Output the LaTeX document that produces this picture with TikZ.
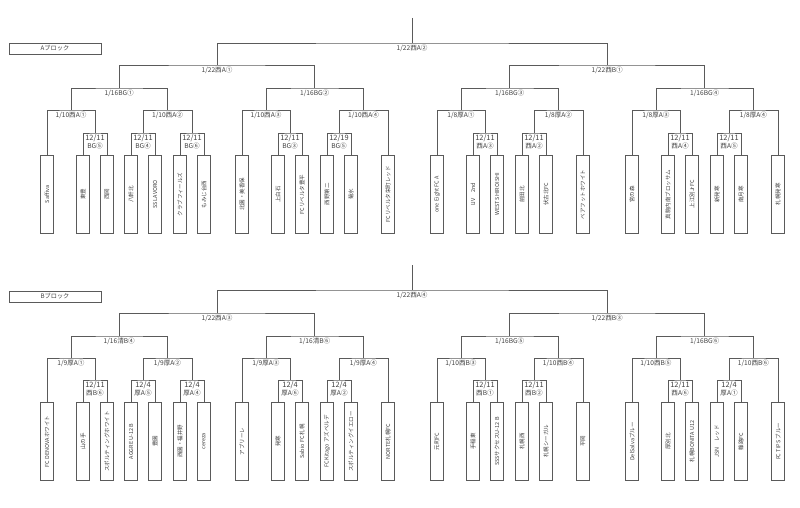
\documentclass[tikz,border=0pt]{standalone}
\usepackage{fontspec}
\setmainfont{Noto Sans CJK JP}
\usetikzlibrary{positioning,calc}

\definecolor{linegray}{HTML}{5A5A5A}
\definecolor{textgray}{HTML}{404040}

\tikzset{
  line/.style={draw=linegray, line width=0.9pt},
  team/.style={draw=linegray, line width=0.9pt, fill=white, rotate=90, anchor=east,
    minimum width=78pt, minimum height=12.5pt, inner sep=0pt,
    font=\fontsize{5.5}{6}\selectfont, text=textgray},
  rnd/.style={inner sep=0.5pt, font=\fontsize{6.6}{7.5}\selectfont, text=textgray},
  datelbl/.style={inner sep=0.5pt, font=\fontsize{7.4}{8}\selectfont, text=textgray},
  blockbox/.style={draw=linegray, line width=0.9pt, minimum width=92pt, minimum height=11pt,
    inner sep=0pt, font=\fontsize{6.2}{7}\selectfont, text=textgray}
}

% match: name, level, left, right, label
\newcommand{\match}[5]{%
  \path ($(#3)!.5!(#4)$) coordinate (mid);
  \coordinate (#1) at (mid |- #2);
  \draw[line] (#3) |- (#1) -| (#4);
  \node[rnd, below=1pt of #1] (#1l) {#5};
}
% first round: name, level, left, right, date, venue
\newcommand{\firstmatch}[6]{%
  \path ($(#3)!.5!(#4)$) coordinate (mid);
  \coordinate (#1) at (mid |- #2);
  \draw[line] (#3) |- (#1) -| (#4);
  \node[datelbl, below=1pt of #1] (#1d) {#5};
  \node[rnd, below=0pt of #1d] (#1v) {#6};
}

\begin{document}
\begin{tikzpicture}[x=1pt, y=-1pt]
  \useasboundingbox (0,0) rectangle (800,508);

  %A block
  \node[blockbox] (atitle) at (55,48.5) {Aブロック};
  \coordinate (aL0) at (0,18);   %top of tree
  \coordinate (aL1) at (0,43);   %final
  \coordinate (aL2) at (0,65);   %semi
  \coordinate (aL3) at (0,88);   %quarter
  \coordinate (aL4) at (0,110);  %second round
  \coordinate (aL5) at (0,133);  %first round
  \foreach \tx/\tn [count=\i] in {47/Saffiva, 83/東豊, 107/西岡, 131/八軒北, 155/SS LAVORO,
      180/クラブフィールズ, 204/もみじ台西, 242/北園・美香保, 278/上白石, 302/FCリベルタ豊平,
      327/西野第二, 351/菊水, 388/FCリベルタ栄町レッド, 437/one Eight FC A, 473/LIV　2nd,
      497/WEST SHIROISHI, 522/前田北, 546/伏古北FC, 583/ベアフットホワイト, 632/宮の森,
      668/真駒内南ブロッサム, 692/上江別JrFC, 717/新発寒, 741/南月寒, 778/札幌発寒}
    \node[team] (a\i) at (\tx,155) {\tn};

  \firstmatch{ar1}{aL5}{a2.east}{a3.east}{12/11}{BG⑤}
  \firstmatch{ar2}{aL5}{a4.east}{a5.east}{12/11}{BG④}
  \firstmatch{ar3}{aL5}{a6.east}{a7.east}{12/11}{BG⑥}
  \firstmatch{ar4}{aL5}{a9.east}{a10.east}{12/11}{BG③}
  \firstmatch{ar5}{aL5}{a11.east}{a12.east}{12/19}{BG⑤}
  \firstmatch{ar6}{aL5}{a15.east}{a16.east}{12/11}{西A③}
  \firstmatch{ar7}{aL5}{a17.east}{a18.east}{12/11}{西A②}
  \firstmatch{ar8}{aL5}{a21.east}{a22.east}{12/11}{西A④}
  \firstmatch{ar9}{aL5}{a23.east}{a24.east}{12/11}{西A⑤}

  \match{am1}{aL4}{a1.east}{ar1}{1/10西A①}
  \match{am2}{aL4}{ar2}{ar3}{1/10西A②}
  \match{am3}{aL4}{a8.east}{ar4}{1/10西A③}
  \match{am4}{aL4}{ar5}{a13.east}{1/10西A④}
  \match{am5}{aL4}{a14.east}{ar6}{1/8厚A①}
  \match{am6}{aL4}{ar7}{a19.east}{1/8厚A②}
  \match{am7}{aL4}{a20.east}{ar8}{1/8厚A③}
  \match{am8}{aL4}{ar9}{a25.east}{1/8厚A④}

  \match{aq1}{aL3}{am1}{am2}{1/16BG①}
  \match{aq2}{aL3}{am3}{am4}{1/16BG②}
  \match{aq3}{aL3}{am5}{am6}{1/16BG③}
  \match{aq4}{aL3}{am7}{am8}{1/16BG④}
  \match{as1}{aL2}{aq1}{aq2}{1/22西A①}
  \match{as2}{aL2}{aq3}{aq4}{1/22西B①}
  \match{af}{aL1}{as1}{as2}{1/22西A②}
  \coordinate (aroot) at (af |- aL0);
  \draw[line] (aroot) -- (af);

  %B block
  \begin{scope}[shift={(0,247)}]
  \node[blockbox] (btitle) at (55,49.5) {Bブロック};
  \coordinate (bL0) at (0,18);   %top of tree
  \coordinate (bL1) at (0,43);   %final
  \coordinate (bL2) at (0,66);   %semi
  \coordinate (bL3) at (0,89);   %quarter
  \coordinate (bL4) at (0,111);  %second round
  \coordinate (bL5) at (0,133);  %first round
  \foreach \tx/\tn [count=\i] in {47/FC DENOVAホワイト, 83/山の手, 107/スポルティングホワイト,
      131/AGGRE U-12 B, 155/豊園, 180/西園・福井野, 204/cereza, 242/アブリーレ, 278/発寒,
      302/Sabio FC 札幌, 327/FC Kitago アズベルデ, 351/スポルティングイエロー, 388/NORTE札幌FC,
      437/元町FC, 473/手稲東, 497/SSSサクセスU-12 B, 522/札幌西, 546/札幌シーガル, 583/平岡,
      632/DelSalvaブルー, 668/厚別北, 692/札幌BONITA U12, 717/JSN　レッド, 741/篠路FC,
      778/FC TIPS ブルー}
    \node[team] (b\i) at (\tx,155) {\tn};

  \firstmatch{br1}{bL5}{b2.east}{b3.east}{12/11}{西B⑥}
  \firstmatch{br2}{bL5}{b4.east}{b5.east}{12/4}{厚A⑤}
  \firstmatch{br3}{bL5}{b6.east}{b7.east}{12/4}{厚A④}
  \firstmatch{br4}{bL5}{b9.east}{b10.east}{12/4}{厚A⑥}
  \firstmatch{br5}{bL5}{b11.east}{b12.east}{12/4}{厚A②}
  \firstmatch{br6}{bL5}{b15.east}{b16.east}{12/11}{西B①}
  \firstmatch{br7}{bL5}{b17.east}{b18.east}{12/11}{西B②}
  \firstmatch{br8}{bL5}{b21.east}{b22.east}{12/11}{西A⑥}
  \firstmatch{br9}{bL5}{b23.east}{b24.east}{12/4}{厚A①}

  \match{bm1}{bL4}{b1.east}{br1}{1/9厚A①}
  \match{bm2}{bL4}{br2}{br3}{1/9厚A②}
  \match{bm3}{bL4}{b8.east}{br4}{1/9厚A③}
  \match{bm4}{bL4}{br5}{b13.east}{1/9厚A④}
  \match{bm5}{bL4}{b14.east}{br6}{1/10西B③}
  \match{bm6}{bL4}{br7}{b19.east}{1/10西B④}
  \match{bm7}{bL4}{b20.east}{br8}{1/10西B⑤}
  \match{bm8}{bL4}{br9}{b25.east}{1/10西B⑥}

  \match{bq1}{bL3}{bm1}{bm2}{1/16清B④}
  \match{bq2}{bL3}{bm3}{bm4}{1/16清B⑥}
  \match{bq3}{bL3}{bm5}{bm6}{1/16BG⑤}
  \match{bq4}{bL3}{bm7}{bm8}{1/16BG⑥}
  \match{bs1}{bL2}{bq1}{bq2}{1/22西A③}
  \match{bs2}{bL2}{bq3}{bq4}{1/22西B③}
  \match{bf}{bL1}{bs1}{bs2}{1/22西A④}
  \coordinate (broot) at (bf |- bL0);
  \draw[line] (broot) -- (bf);
  \end{scope}
\end{tikzpicture}
\end{document}
